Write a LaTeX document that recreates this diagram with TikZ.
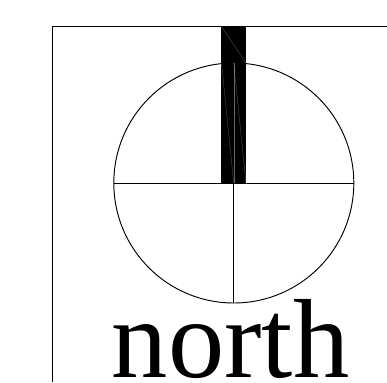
\documentclass[tikz,border=0pt]{standalone}
\usepackage{fontspec}
\setmainfont{Liberation Serif}
\tikzset{
  thinline/.style={draw=black,line width=0.95pt},
  seam/.style={draw=white,line width=0.25pt,opacity=0.4},
  barfill/.style={fill=black,draw=none},
  bigword/.style={font=\fontsize{112.5}{112.5}\selectfont,inner sep=0pt,anchor=base,text=black}
}
\begin{document}
\begin{tikzpicture}[x=1pt,y=-1pt]
\useasboundingbox (0,0) rectangle (387,382);
\coordinate (frameBL) at (52,382);
\coordinate (frameTL) at (52,26);
\coordinate (frameTR) at (387,26);
\coordinate (c) at (233.8,183);
\coordinate (barTL) at (221,26);
\coordinate (barTR) at (246,26);
\coordinate (barBR) at (246,183);
\coordinate (barBL) at (221,183);
\coordinate (rimL) at (221.5,63);
\coordinate (rimR) at (246,63);
\coordinate (rimM) at (233.7,63);
\coordinate (midB) at (233.7,183);
\draw[thinline] (frameBL) -- (frameTL) -- (frameTR);
\draw[thinline] (c) circle[radius=120];
\draw[thinline] (113.8,183) -- (353.8,183);
\draw[thinline] (c) -- (233.8,303);
\fill[barfill] (barTL) -- (barTR) -- (barBR) -- (barBL) -- cycle;
\draw[seam] (barTL) -- (rimR);
\draw[seam] (rimL) -- (midB);
\draw[seam] (rimM) -- (midB);
\draw[seam] (rimM) -- (barBR);
\node[bigword] (word) at (230.5,377) {north};
\end{tikzpicture}
\end{document}
